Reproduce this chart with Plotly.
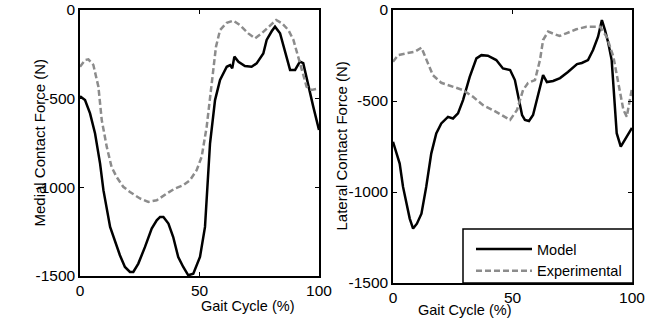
import plotly.graph_objects as go

# ---- data ----
med_model_x = [0, 2.1, 4.2, 6.3, 8.4, 9.8, 12.6, 14.6, 16.7, 18.8, 20.9, 22.3, 24.4, 27.2, 30, 32.1,
               33.5, 34.9, 37, 39, 41.1, 43.2, 45.3, 47.4, 50.2, 52.3, 54.4, 56.5, 58.6, 61.4, 62.8,
               63.7, 64.6, 66.3, 69, 71.8, 73.9, 76.7, 78.1, 80.2, 81.6, 83.7, 86.5, 87.9, 90, 92,
               93.4, 95.5, 97.6, 100]
med_model_y = [-486, -508, -583, -696, -866, -1016, -1223, -1298, -1383, -1449, -1477, -1477, -1430,
               -1336, -1233, -1186, -1167, -1167, -1204, -1280, -1393, -1449, -1496, -1487, -1393,
               -1223, -753, -508, -395, -320, -311, -329, -263, -292, -316, -320, -301, -245, -169,
               -120, -94, -131, -263, -338, -338, -291, -300, -432, -545, -677]

med_exp_x = [0, 2.1, 3.5, 5.6, 7.7, 9.1, 11.2, 13.2, 15.3, 18.1, 20.9, 25.1, 28.6, 32.1, 36.3, 39.7,
             43.2, 46, 48.8, 50.9, 53, 55.1, 56.9, 58.6, 61.4, 64.2, 66.9, 70.4, 73.2, 76, 79.5, 82.1,
             84.5, 87.2, 89.3, 92, 94.8, 96.9, 100]
med_exp_y = [-320, -282, -278, -310, -433, -621, -772, -885, -941, -997, -1026, -1063, -1082, -1073,
             -1035, -1007, -988, -960, -903, -828, -659, -433, -207, -113, -72, -60, -85, -132, -160,
             -132, -85, -56, -75, -113, -169, -291, -432, -451, -442]

lat_model_x = [0, 1.4, 2.8, 4.2, 5.6, 7, 8.4, 10, 11.9, 13.9, 16, 18.1, 20.2, 23, 25.1, 27.2, 29.3,
               32.1, 34.9, 37, 39.7, 43.2, 46, 49, 51, 52.3, 54, 55.2, 56.9, 58.6, 60.2, 62.3, 62.8,
               64.4, 67, 69.9, 73.2, 77, 79, 81.6, 83.7, 85.8, 87.4, 88.7, 90.1, 91.5, 92.2, 92.9,
               93.6, 95.3, 97.1, 100]
lat_model_y = [-724, -789, -844, -972, -1064, -1146, -1201, -1174, -1119, -972, -789, -678, -623,
               -587, -596, -568, -495, -367, -266, -248, -251, -275, -321, -330, -385, -478, -577,
               -604, -610, -577, -495, -385, -357, -396, -390, -374, -341, -297, -291, -275, -220,
               -147, -55, -110, -183, -275, -403, -549, -677, -751, -714, -648]

lat_exp_x = [0, 2.1, 5.6, 9.1, 11.9, 13.9, 16.7, 20.2, 25.1, 29.3, 33.5, 37.7, 41.8, 45.3, 49, 51.9,
             54.4, 56.5, 59.4, 61.5, 62.8, 64.9, 67, 69.7, 72.5, 76.7, 80.9, 86.6, 89.4, 92.2, 94.3,
             96.4, 97.8, 99.2, 100]
lat_exp_y = [-284, -248, -238, -229, -207, -266, -358, -400, -422, -440, -477, -523, -550, -578,
             -604, -549, -440, -401, -385, -275, -165, -119, -128, -143, -128, -106, -92, -92, -147,
             -256, -403, -549, -586, -476, -430]

x_ticks = [0, 50, 100]
x_tick_labels = ["0", "50", "100"]
y_ticks = [-1500, -1000, -500, 0]
y_tick_labels = ["-1500", "-1000", "-500", "0"]
x_title = "Gait Cycle (%)"
y_titles = ["Medial Contact Force (N)", "Lateral Contact Force (N)"]
names = ["Model", "Experimental"]

FONT = "Liberation Sans, Arial, sans-serif"
W, H = 660, 327
model_style = dict(color="black", width=2.5)
exp_style = dict(color="#8c8c8c", width=2.5, dash="6px,3px")

fig = go.Figure()
fig.add_trace(go.Scatter(x=med_model_x, y=med_model_y, mode="lines", line=model_style,
                         name=names[0], xaxis="x", yaxis="y", showlegend=False))
fig.add_trace(go.Scatter(x=med_exp_x, y=med_exp_y, mode="lines", line=exp_style,
                         name=names[1], xaxis="x", yaxis="y", showlegend=False))
fig.add_trace(go.Scatter(x=lat_model_x, y=lat_model_y, mode="lines", line=model_style,
                         name=names[0], xaxis="x2", yaxis="y2"))
fig.add_trace(go.Scatter(x=lat_exp_x, y=lat_exp_y, mode="lines", line=exp_style,
                         name=names[1], xaxis="x2", yaxis="y2"))

# pixel layout
L1, R1, T1, B1 = 80, 319, 10, 276
L2, R2, T2, B2 = 393, 632, 10, 283

def px(x):
    return x / W

def py(y):
    return 1 - y / H

axis_common = dict(showline=True, linecolor="black", linewidth=1.5, mirror="ticks",
                   ticks="inside", ticklen=4, tickwidth=1, tickcolor="black",
                   showgrid=False, zeroline=False, automargin=False,
                   tickfont=dict(family=FONT, size=15.5, color="black"))

fig.update_layout(
    width=W, height=H,
    margin=dict(l=0, r=0, t=0, b=0),
    paper_bgcolor="white", plot_bgcolor="white",
    font=dict(family=FONT, color="black"),
    xaxis=dict(domain=[px(L1), px(R1)], range=[0, 100], tickvals=x_ticks, ticktext=x_tick_labels,
               anchor="y", **axis_common),
    yaxis=dict(domain=[py(B1), py(T1)], range=[-1500, 0], tickvals=y_ticks, ticktext=y_tick_labels,
               anchor="x", **axis_common),
    xaxis2=dict(domain=[px(L2), px(R2)], range=[0, 100], tickvals=x_ticks, ticktext=x_tick_labels,
                anchor="y2", **axis_common),
    yaxis2=dict(domain=[py(B2), py(T2)], range=[-1500, 0], tickvals=y_ticks, ticktext=y_tick_labels,
                anchor="x2", **axis_common),
    showlegend=True,
    legend=dict(x=px(471), y=py(233), xanchor="left", yanchor="top",
                bgcolor="rgba(0,0,0,0)", borderwidth=0, itemwidth=56,
                font=dict(family=FONT, size=14.5, color="black"),
                tracegroupgap=0),
)

# legend box
fig.add_shape(type="rect", xref="paper", yref="paper",
              x0=px(463), x1=px(633), y0=py(283), y1=py(229),
              line=dict(color="black", width=1.5), fillcolor="white", layer="above")

# axis titles
fig.add_annotation(text=x_title, xref="paper", yref="paper", x=px((L1 + R1) / 2), y=py(316),
                   showarrow=False, font=dict(family=FONT, size=14.5, color="black"))
fig.add_annotation(text=x_title, xref="paper", yref="paper", x=px((L2 + R2) / 2), y=py(320),
                   showarrow=False, font=dict(family=FONT, size=14.5, color="black"))
fig.add_annotation(text=y_titles[0], xref="paper", yref="paper", x=px(28), y=py((T1 + B1) / 2),
                   textangle=-90, showarrow=False, font=dict(family=FONT, size=15, color="black"))
fig.add_annotation(text=y_titles[1], xref="paper", yref="paper", x=px(341), y=py((T2 + B2) / 2),
                   textangle=-90, showarrow=False, font=dict(family=FONT, size=15, color="black"))

fig.write_html("out.html", config={"displayModeBar": False},
               post_script="document.body.style.margin='0';document.body.style.overflow='hidden';")
